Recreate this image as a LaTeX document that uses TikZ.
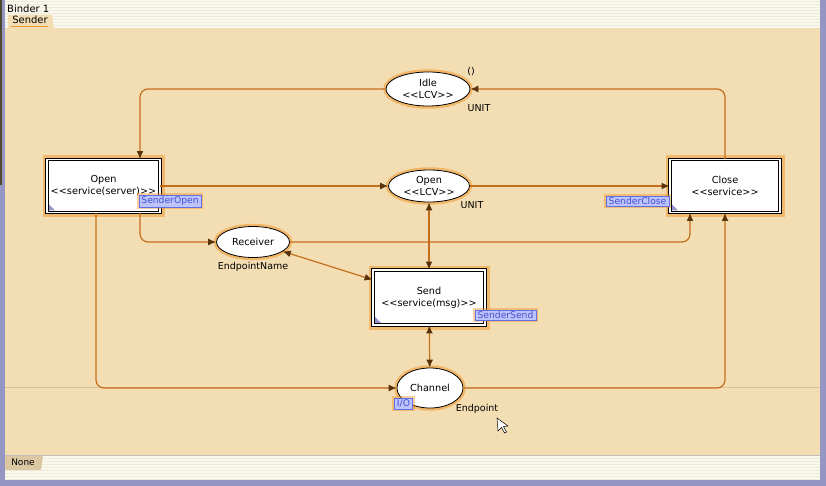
\documentclass[tikz,border=0pt]{standalone}
\usepackage{fontspec}
\setmainfont{DejaVu Sans}
\usetikzlibrary{shapes.geometric,arrows.meta}

\definecolor{pagetan}{RGB}{243,222,180}
\definecolor{framecol}{RGB}{150,150,196}
\definecolor{creamcol}{RGB}{250,248,236}
\definecolor{stripecol}{RGB}{238,236,220}
\definecolor{arccol}{RGB}{196,110,28}
\definecolor{tipcol}{RGB}{90,50,10}
\definecolor{glowcol}{RGB}{240,150,40}
\definecolor{tagfill}{RGB}{188,196,250}
\definecolor{tagdraw}{RGB}{96,110,235}
\definecolor{tagtext}{RGB}{70,80,210}
\definecolor{cornercol}{RGB}{150,150,205}

\newcommand{\dlt}{<\kern0pt<}
\newcommand{\dgt}{>\kern0pt>}

\tikzset{
  place/.style={ellipse, draw=black, fill=white, line width=0.8pt,
    inner sep=0pt, align=center,
    preaction={draw=glowcol, line width=5.5pt, opacity=0.55}},
  trans/.style={rectangle, draw=black, fill=white, line width=0.9pt,
    double=white, double distance=1.8pt, align=center, inner sep=0pt,
    minimum width=113pt, minimum height=53pt,
    preaction={draw=glowcol, line width=9pt, opacity=0.5}},
  tag/.style={rectangle, fill=tagfill, draw=tagdraw, text=tagtext,
    line width=0.6pt, inner xsep=2.5pt, inner ysep=1.5pt,
    font=\fontsize{9.2}{10}\selectfont,
    preaction={draw=glowcol, line width=4pt, opacity=0.45}},
  inscr/.style={inner sep=0pt, font=\fontsize{9.5}{11}\selectfont},
  corner/.style={fill=cornercol},
  arc/.style={draw=arccol, line width=1.2pt, rounded corners=8pt,
    -{Latex[length=8pt,width=7pt,color=tipcol]}},
  biarc/.style={draw=arccol, line width=1.2pt,
    {Latex[length=8pt,width=7pt,color=tipcol]}-{Latex[length=8pt,width=7pt,color=tipcol]}}
}

\begin{document}
\begin{tikzpicture}[x=1pt,y=-1pt,font=\fontsize{9.7}{12}\selectfont]
        \useasboundingbox (0,0) rectangle (826,486);

        % window frame
        \fill[framecol] (0,0) rectangle (826,486);
        \fill[creamcol] (5,0) rectangle (820,480);
        \fill[black!60!olive] (0,0) rectangle (2,185);
        \foreach \y in {2,5,...,26} \draw[stripecol, line width=1pt] (5,\y) -- (820,\y);
        \foreach \y in {458,461,...,479} \draw[stripecol, line width=1pt] (5,\y) -- (820,\y);
        \fill[pagetan] (5,28) rectangle (820,455);
        \draw[black!25] (5,455.5) -- (820,455.5);
        \draw[black!12!pagetan, line width=1pt] (5,387) -- (820,387);

        % binder and page tabs
        \node[anchor=west, inner sep=0pt, font=\fontsize{10}{12}\selectfont] (binder) at (7,9) {Binder 1};
        \fill[pagetan] (8,28) -- (8,15) -- (52,15) -- (54,28) -- cycle;
        \node[inner sep=0pt, font=\fontsize{10}{12}\selectfont] (sendertab) at (30,20) {Sender};
        \draw[glowcol, line width=1.5pt] (11,26.5) -- (48,26.5);
        \fill[black!10!pagetan] (5,456) -- (5,470) -- (41,470) -- (43,456) -- cycle;
        \node[inner sep=0pt, font=\fontsize{9}{10}\selectfont] (nonetab) at (23,462) {None};

        % places
        \node[place, minimum width=84pt, minimum height=34pt] (idle) at (428,89) {Idle\\\dlt LCV\dgt};
        \node[place, minimum width=81pt, minimum height=32pt] (openpl) at (429,186) {Open\\\dlt LCV\dgt};
        \node[place, minimum width=73pt, minimum height=31pt] (recv) at (253,242) {Receiver};
        \node[place, minimum width=66pt, minimum height=40pt] (chan) at (430,388) {Channel};

        % transitions
        \node[trans] (opentr) at (103.5,186) {Open\\\dlt service(server)\dgt};
        \node[trans, minimum width=110pt] (closetr) at (725,186) {Close\\\dlt service\dgt};
        \node[trans, minimum width=112pt, minimum height=55pt] (send) at (429,297.5) {Send\\\dlt service(msg)\dgt};
        \fill[corner] ([shift={(2.5pt,2.5pt)}]opentr.south west) -- ++(6,0) -- ++(-6,-6) -- cycle;
        \fill[corner] ([shift={(2.5pt,2.5pt)}]closetr.south west) -- ++(6,0) -- ++(-6,-6) -- cycle;
        \fill[corner] ([shift={(2.5pt,2.5pt)}]send.south west) -- ++(6,0) -- ++(-6,-6) -- cycle;

        % arcs
        \draw[arc] (idle.west) -| ([xshift=36.5pt]opentr.north);
        \draw[arc] (closetr.north) |- (idle.east);
        \draw[arc] (opentr) -- (openpl);
        \draw[arc] (openpl) -- (closetr);
        \draw[arc] ([xshift=36.5pt]opentr.south) |- (recv.west);
        \draw[arc] (recv.east) -| ([xshift=-35pt]closetr.south);
        \draw[biarc] (recv) -- (send);
        \draw[biarc] (openpl) -- (send);
        \draw[biarc] (send) -- (chan);
        \draw[arc] ([xshift=-7.5pt]opentr.south) |- (chan.west);
        \draw[arc] (chan.east) -| (closetr.south);

        % inscriptions
        \node[inscr] (idleinit) at (471,72) {()};
        \node[inscr] (idlecs) at (479,108) {UNIT};
        \node[inscr] (opencs) at (472,205) {UNIT};
        \node[inscr] (recvcs) at (253,267) {EndpointName};
        \node[inscr] (chancs) at (477,409) {Endpoint};

        % substitution and port tags
        \node[tag] (opentag) at (170,201) {SenderOpen};
        \node[tag] (closetag) at (637.5,201) {SenderClose};
        \node[tag] (sendtag) at (505.5,315) {SenderSend};
        \node[tag] (iotag) at (403.5,403.5) {I/O};

        % mouse pointer
        \draw[fill=white, line width=0.5pt] (497,418) -- (498,431) -- (501.5,427.5)
          -- (504.5,433) -- (506.5,432) -- (503.5,426.5) -- (508,426) -- cycle;
\end{tikzpicture}
\end{document}
